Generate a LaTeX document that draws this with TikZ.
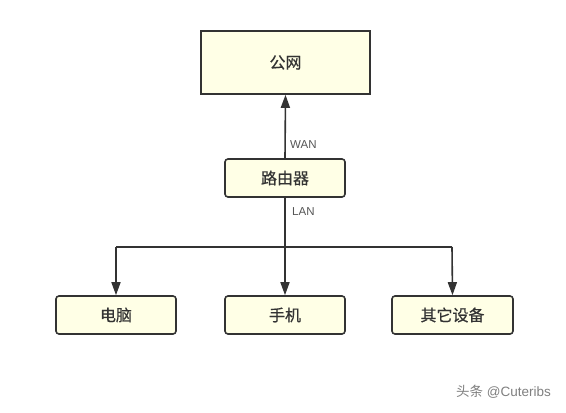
\documentclass[tikz,border=0pt]{standalone}
\usepackage{fontspec}
\setmainfont{Liberation Sans}
\newfontfamily\cjk{Noto Sans CJK SC}[FakeBold=0.6]
\newfontfamily\cjkw{Noto Sans CJK SC}
\usetikzlibrary{arrows.meta}
\definecolor{boxfill}{HTML}{FFFFE6}
\definecolor{boxline}{HTML}{333333}
\definecolor{lbl}{HTML}{555555}
\begin{document}
\begin{tikzpicture}[x=1pt,y=-1pt,
  box/.style={draw=boxline,line width=1.6pt,fill=boxfill,inner sep=0pt,
    font=\cjk\fontsize{16}{18}\selectfont,text=boxline},
  rbox/.style={box,rounded corners=3pt,minimum width=120pt,minimum height=38pt},
  conn/.style={draw=boxline,line width=1.6pt,-{Triangle[width=9pt,length=13pt]}},
  plain/.style={draw=boxline,line width=1.6pt},
  lab/.style={text=lbl,font=\fontsize{11.5}{13}\selectfont,inner sep=0pt,anchor=west}]
\useasboundingbox (0,0) rectangle (566,413);
\fill[white] (0,0) rectangle (566,413);
\node[box,minimum width=169pt,minimum height=63pt] (pub) at (285.5,62.5) {公网};
\node[rbox] (router) at (285,178) {路由器};
\node[rbox] (pc) at (116,315) {电脑};
\node[rbox] (phone) at (285,315) {手机};
\node[rbox,minimum width=121pt] (other) at (452.5,315) {其它设备};
\coordinate (j) at (285,247);
\coordinate (jl) at (116,247);
\coordinate (jr) at (452,247);
\draw[conn] (router.north) -- (pub.south);
\draw[conn] (router.south) -- (phone.north);
\draw[plain] (jl) -- (jr);
\draw[conn] (jl) -- (pc.north);
\draw[conn] (jr) -- (other.north);
\node[lab] (wan) at (290,145) {WAN};
\node[lab] (lan) at (292,212) {LAN};
\node[text=lbl!75,anchor=west,inner sep=0pt,font=\fontsize{13.5}{15}\selectfont] (wm) at (456,392) {{\cjkw 头条} @Cuteribs};
\end{tikzpicture}
\end{document}
